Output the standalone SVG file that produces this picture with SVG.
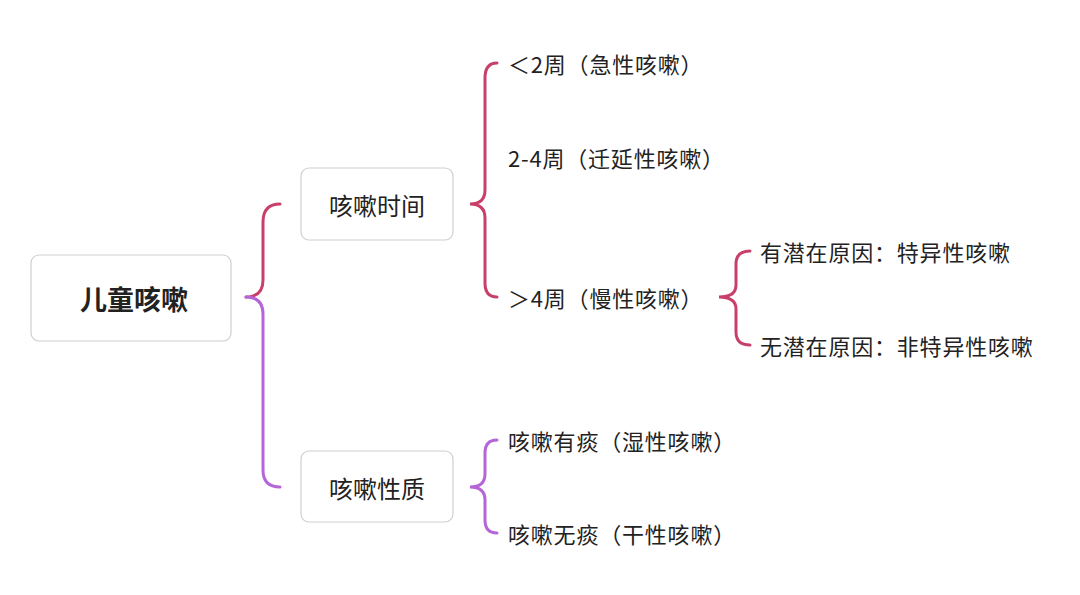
<svg xmlns="http://www.w3.org/2000/svg" width="1080" height="595" viewBox="0 0 1080 595">
<style>
.box{fill:#fff;stroke:#cfcfcf;stroke-width:1.2}
text{font-family:"Noto Sans CJK SC","Noto Sans",sans-serif;fill:#222;dominant-baseline:central}
.t{font-size:22px;letter-spacing:0.8px}
.n{font-size:24px;text-anchor:middle}
.r{font-size:27px;font-weight:bold;text-anchor:middle}
.c{fill:none;stroke:#c8406a;stroke-width:3;stroke-linecap:round}
.p{fill:none;stroke:#b565d8;stroke-width:3;stroke-linecap:round}
</style>
<rect width="1080" height="595" fill="#fff"/>
<g id="connectors">
<path class="c" d="M280 204 Q263 204 263 222 L263 280 Q263 297 246 297"/>
<path class="p" d="M246 297 Q263 297 263 314 L263 470 Q263 487 280 487"/>
<path class="c" d="M497 63 Q485 63 485 78 L485 190 Q485 204 470 204 Q485 204 485 218 L485 283 Q485 297 497 297"/>
<path class="c" d="M750 251 Q736 251 736 264 L736 285 Q736 297 719 297 Q736 297 736 309 L736 332 Q736 345 750 345"/>
<path class="p" d="M497 440 Q485 440 485 453 L485 474 Q485 487 470 487 Q485 487 485 500 L485 520 Q485 533 497 533"/>
</g>
<g id="root"><rect class="box" x="31" y="255" width="200" height="86" rx="8"/><text class="r" x="134" y="298">儿童咳嗽</text></g>
<g id="time"><rect class="box" x="301" y="168" width="152" height="72" rx="8"/><text class="n" x="377" y="204">咳嗽时间</text></g>
<g id="nature"><rect class="box" x="301" y="451" width="152" height="71" rx="8"/><text class="n" x="377" y="487">咳嗽性质</text></g>
<g id="t1"><text class="t" x="508" y="63">＜2周（急性咳嗽）</text></g>
<g id="t2"><text class="t" x="508" y="157">2-4周（迁延性咳嗽）</text></g>
<g id="t3"><text class="t" x="508" y="297">＞4周（慢性咳嗽）</text></g>
<g id="c1"><text class="t" x="760" y="251">有潜在原因：特异性咳嗽</text></g>
<g id="c2"><text class="t" x="760" y="345">无潜在原因：非特异性咳嗽</text></g>
<g id="n1"><text class="t" x="508" y="440">咳嗽有痰（湿性咳嗽）</text></g>
<g id="n2"><text class="t" x="508" y="533">咳嗽无痰（干性咳嗽）</text></g>
</svg>
